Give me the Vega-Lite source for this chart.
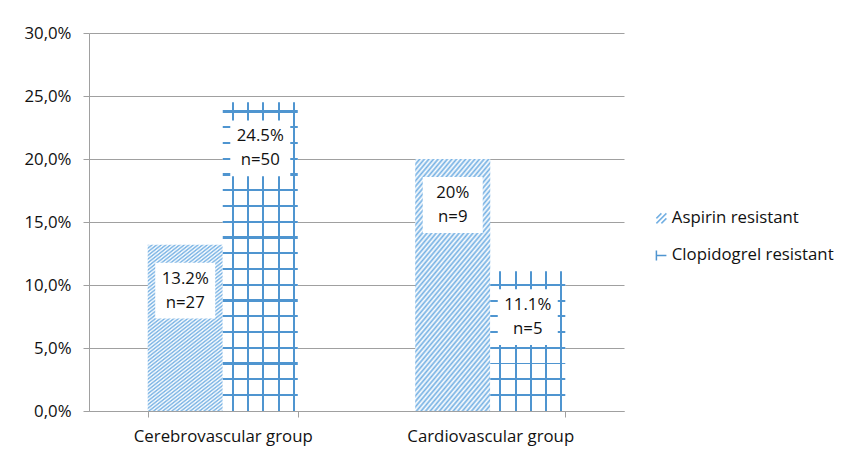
{
  "$schema": "https://vega.github.io/schema/vega-lite/v6.json",
  "width": 535,
  "height": 378,
  "autosize": "none",
  "padding": {"left": 89, "top": 33, "right": 222, "bottom": 41},
  "background": "white",
  "config": {"view": {"stroke": null}, "font": "Open Sans"},
  "data": {
    "values": [
      {"group": "Cerebrovascular group", "series": "Aspirin resistant", "value": 0.132, "label": ["13.2%", "n=27"]},
      {"group": "Cerebrovascular group", "series": "Clopidogrel resistant", "value": 0.245, "label": ["24.5%", "n=50"]},
      {"group": "Cardiovascular group", "series": "Aspirin resistant", "value": 0.2, "label": ["20%", "n=9"]},
      {"group": "Cardiovascular group", "series": "Clopidogrel resistant", "value": 0.111, "label": ["11.1%", "n=5"]}
    ]
  },
  "encoding": {
    "x": {
      "field": "group", "type": "nominal",
      "sort": ["Cerebrovascular group", "Cardiovascular group"],
      "scale": {"paddingInner": 0.439, "paddingOuter": 0.2195},
      "axis": {"title": null, "labelAngle": 0, "domainColor": "#a0a0a0", "tickColor": "#a0a0a0", "tickSize": 6, "tickBand": "extent", "labelFontSize": 16.8, "labelFont": "Open Sans", "labelColor": "#111111", "labelPadding": 11, "grid": false}
    },
    "xOffset": {
      "field": "series", "type": "nominal",
      "scale": {"domain": ["Aspirin resistant", "Clopidogrel resistant"], "paddingInner": 0, "paddingOuter": 0}
    },
    "y": {
      "field": "value", "type": "quantitative",
      "scale": {"domain": [0, 0.3], "nice": false},
      "axis": {"title": null, "values": [0, 0.05, 0.1, 0.15, 0.2, 0.25, 0.3], "labelExpr": "replace(format(datum.value, '.1%'), '.', ',')", "grid": true, "gridColor": "#a0a0a0", "domainColor": "#a0a0a0", "tickColor": "#a0a0a0", "tickSize": 6, "labelFontSize": 16.8, "labelFont": "Open Sans", "labelColor": "#111111", "labelPadding": 12}
    }
  },
  "layer": [
    {
      "transform": [{"filter": "datum.series === 'Aspirin resistant'"}],
      "mark": {
        "type": "bar",
        "fill": {
          "gradient": "linear", "x1": 0, "y1": 0, "x2": 0.693, "y2": 1.94,
          "stops": [
            {"offset": 0, "color": "#74b0e3"}, {"offset": 0.005, "color": "#fff"},
            {"offset": 0.01, "color": "#74b0e3"}, {"offset": 0.015, "color": "#fff"},
            {"offset": 0.02, "color": "#74b0e3"}, {"offset": 0.025, "color": "#fff"},
            {"offset": 0.03, "color": "#74b0e3"}, {"offset": 0.035, "color": "#fff"},
            {"offset": 0.04, "color": "#74b0e3"}, {"offset": 0.045, "color": "#fff"},
            {"offset": 0.05, "color": "#74b0e3"}, {"offset": 0.055, "color": "#fff"},
            {"offset": 0.06, "color": "#74b0e3"}, {"offset": 0.065, "color": "#fff"},
            {"offset": 0.07, "color": "#74b0e3"}, {"offset": 0.075, "color": "#fff"},
            {"offset": 0.08, "color": "#74b0e3"}, {"offset": 0.085, "color": "#fff"},
            {"offset": 0.09, "color": "#74b0e3"}, {"offset": 0.095, "color": "#fff"},
            {"offset": 0.1, "color": "#74b0e3"}, {"offset": 0.105, "color": "#fff"},
            {"offset": 0.11, "color": "#74b0e3"}, {"offset": 0.115, "color": "#fff"},
            {"offset": 0.12, "color": "#74b0e3"}, {"offset": 0.125, "color": "#fff"},
            {"offset": 0.13, "color": "#74b0e3"}, {"offset": 0.135, "color": "#fff"},
            {"offset": 0.14, "color": "#74b0e3"}, {"offset": 0.145, "color": "#fff"},
            {"offset": 0.15, "color": "#74b0e3"}, {"offset": 0.155, "color": "#fff"},
            {"offset": 0.16, "color": "#74b0e3"}, {"offset": 0.165, "color": "#fff"},
            {"offset": 0.17, "color": "#74b0e3"}, {"offset": 0.175, "color": "#fff"},
            {"offset": 0.18, "color": "#74b0e3"}, {"offset": 0.185, "color": "#fff"},
            {"offset": 0.19, "color": "#74b0e3"}, {"offset": 0.195, "color": "#fff"},
            {"offset": 0.2, "color": "#74b0e3"}, {"offset": 0.205, "color": "#fff"},
            {"offset": 0.21, "color": "#74b0e3"}, {"offset": 0.215, "color": "#fff"},
            {"offset": 0.22, "color": "#74b0e3"}, {"offset": 0.225, "color": "#fff"},
            {"offset": 0.23, "color": "#74b0e3"}, {"offset": 0.235, "color": "#fff"},
            {"offset": 0.24, "color": "#74b0e3"}, {"offset": 0.245, "color": "#fff"},
            {"offset": 0.25, "color": "#74b0e3"}, {"offset": 0.255, "color": "#fff"},
            {"offset": 0.26, "color": "#74b0e3"}, {"offset": 0.265, "color": "#fff"},
            {"offset": 0.27, "color": "#74b0e3"}, {"offset": 0.275, "color": "#fff"},
            {"offset": 0.28, "color": "#74b0e3"}, {"offset": 0.285, "color": "#fff"},
            {"offset": 0.29, "color": "#74b0e3"}, {"offset": 0.295, "color": "#fff"},
            {"offset": 0.3, "color": "#74b0e3"}, {"offset": 0.305, "color": "#fff"},
            {"offset": 0.31, "color": "#74b0e3"}, {"offset": 0.315, "color": "#fff"},
            {"offset": 0.32, "color": "#74b0e3"}, {"offset": 0.325, "color": "#fff"},
            {"offset": 0.33, "color": "#74b0e3"}, {"offset": 0.335, "color": "#fff"},
            {"offset": 0.34, "color": "#74b0e3"}, {"offset": 0.345, "color": "#fff"},
            {"offset": 0.35, "color": "#74b0e3"}, {"offset": 0.355, "color": "#fff"},
            {"offset": 0.36, "color": "#74b0e3"}, {"offset": 0.365, "color": "#fff"},
            {"offset": 0.37, "color": "#74b0e3"}, {"offset": 0.375, "color": "#fff"},
            {"offset": 0.38, "color": "#74b0e3"}, {"offset": 0.385, "color": "#fff"},
            {"offset": 0.39, "color": "#74b0e3"}, {"offset": 0.395, "color": "#fff"},
            {"offset": 0.4, "color": "#74b0e3"}, {"offset": 0.405, "color": "#fff"},
            {"offset": 0.41, "color": "#74b0e3"}, {"offset": 0.415, "color": "#fff"},
            {"offset": 0.42, "color": "#74b0e3"}, {"offset": 0.425, "color": "#fff"},
            {"offset": 0.43, "color": "#74b0e3"}, {"offset": 0.435, "color": "#fff"},
            {"offset": 0.44, "color": "#74b0e3"}, {"offset": 0.445, "color": "#fff"},
            {"offset": 0.45, "color": "#74b0e3"}, {"offset": 0.455, "color": "#fff"},
            {"offset": 0.46, "color": "#74b0e3"}, {"offset": 0.465, "color": "#fff"},
            {"offset": 0.47, "color": "#74b0e3"}, {"offset": 0.475, "color": "#fff"},
            {"offset": 0.48, "color": "#74b0e3"}, {"offset": 0.485, "color": "#fff"},
            {"offset": 0.49, "color": "#74b0e3"}, {"offset": 0.495, "color": "#fff"},
            {"offset": 0.5, "color": "#74b0e3"}, {"offset": 0.505, "color": "#fff"},
            {"offset": 0.51, "color": "#74b0e3"}, {"offset": 0.515, "color": "#fff"},
            {"offset": 0.52, "color": "#74b0e3"}, {"offset": 0.525, "color": "#fff"},
            {"offset": 0.53, "color": "#74b0e3"}, {"offset": 0.535, "color": "#fff"},
            {"offset": 0.54, "color": "#74b0e3"}, {"offset": 0.545, "color": "#fff"},
            {"offset": 0.55, "color": "#74b0e3"}, {"offset": 0.555, "color": "#fff"},
            {"offset": 0.56, "color": "#74b0e3"}, {"offset": 0.565, "color": "#fff"},
            {"offset": 0.57, "color": "#74b0e3"}, {"offset": 0.575, "color": "#fff"},
            {"offset": 0.58, "color": "#74b0e3"}, {"offset": 0.585, "color": "#fff"},
            {"offset": 0.59, "color": "#74b0e3"}, {"offset": 0.595, "color": "#fff"},
            {"offset": 0.6, "color": "#74b0e3"}, {"offset": 0.605, "color": "#fff"},
            {"offset": 0.61, "color": "#74b0e3"}, {"offset": 0.615, "color": "#fff"},
            {"offset": 0.62, "color": "#74b0e3"}, {"offset": 0.625, "color": "#fff"}
          ]
        }
      }
    },
    {
      "transform": [{"filter": "datum.series === 'Clopidogrel resistant'"}],
      "mark": {
        "type": "bar",
        "fill": {
          "gradient": "linear", "x1": 0, "y1": 0, "x2": 1, "y2": 0,
          "stops": [
            {"offset": 0, "color": "#ffffff"}, {"offset": 0.12, "color": "#ffffff"},
            {"offset": 0.12, "color": "#4f95d0"}, {"offset": 0.146, "color": "#4f95d0"},
            {"offset": 0.146, "color": "#ffffff"}, {"offset": 0.324, "color": "#ffffff"},
            {"offset": 0.324, "color": "#4f95d0"}, {"offset": 0.35, "color": "#4f95d0"},
            {"offset": 0.35, "color": "#ffffff"}, {"offset": 0.528, "color": "#ffffff"},
            {"offset": 0.528, "color": "#4f95d0"}, {"offset": 0.554, "color": "#4f95d0"},
            {"offset": 0.554, "color": "#ffffff"}, {"offset": 0.732, "color": "#ffffff"},
            {"offset": 0.732, "color": "#4f95d0"}, {"offset": 0.758, "color": "#4f95d0"},
            {"offset": 0.758, "color": "#ffffff"}, {"offset": 0.936, "color": "#ffffff"},
            {"offset": 0.936, "color": "#4f95d0"}, {"offset": 0.962, "color": "#4f95d0"},
            {"offset": 0.962, "color": "#ffffff"}, {"offset": 1, "color": "#ffffff"}
          ]
        }
      }
    },
    {
      "transform": [{"filter": "datum.series === 'Clopidogrel resistant' && datum.group === 'Cerebrovascular group'"}],
      "mark": {
        "type": "bar",
        "fill": {
          "gradient": "linear", "x1": 0, "y1": 0, "x2": 0, "y2": 1,
          "stops": [
            {"offset": 0, "color": "rgba(255,255,255,0)"},
            {"offset": 0.0265, "color": "rgba(255,255,255,0)"}, {"offset": 0.0265, "color": "#4f95d0"}, {"offset": 0.0331, "color": "#4f95d0"}, {"offset": 0.0331, "color": "rgba(255,255,255,0)"},
            {"offset": 0.0775, "color": "rgba(255,255,255,0)"}, {"offset": 0.0775, "color": "#4f95d0"}, {"offset": 0.0841, "color": "#4f95d0"}, {"offset": 0.0841, "color": "rgba(255,255,255,0)"},
            {"offset": 0.1285, "color": "rgba(255,255,255,0)"}, {"offset": 0.1285, "color": "#4f95d0"}, {"offset": 0.1351, "color": "#4f95d0"}, {"offset": 0.1351, "color": "rgba(255,255,255,0)"},
            {"offset": 0.1796, "color": "rgba(255,255,255,0)"}, {"offset": 0.1796, "color": "#4f95d0"}, {"offset": 0.1862, "color": "#4f95d0"}, {"offset": 0.1862, "color": "rgba(255,255,255,0)"},
            {"offset": 0.2306, "color": "rgba(255,255,255,0)"}, {"offset": 0.2306, "color": "#4f95d0"}, {"offset": 0.2372, "color": "#4f95d0"}, {"offset": 0.2372, "color": "rgba(255,255,255,0)"},
            {"offset": 0.2816, "color": "rgba(255,255,255,0)"}, {"offset": 0.2816, "color": "#4f95d0"}, {"offset": 0.2882, "color": "#4f95d0"}, {"offset": 0.2882, "color": "rgba(255,255,255,0)"},
            {"offset": 0.3326, "color": "rgba(255,255,255,0)"}, {"offset": 0.3326, "color": "#4f95d0"}, {"offset": 0.3392, "color": "#4f95d0"}, {"offset": 0.3392, "color": "rgba(255,255,255,0)"},
            {"offset": 0.3836, "color": "rgba(255,255,255,0)"}, {"offset": 0.3836, "color": "#4f95d0"}, {"offset": 0.3902, "color": "#4f95d0"}, {"offset": 0.3902, "color": "rgba(255,255,255,0)"},
            {"offset": 0.4347, "color": "rgba(255,255,255,0)"}, {"offset": 0.4347, "color": "#4f95d0"}, {"offset": 0.4413, "color": "#4f95d0"}, {"offset": 0.4413, "color": "rgba(255,255,255,0)"},
            {"offset": 0.4857, "color": "rgba(255,255,255,0)"}, {"offset": 0.4857, "color": "#4f95d0"}, {"offset": 0.4923, "color": "#4f95d0"}, {"offset": 0.4923, "color": "rgba(255,255,255,0)"},
            {"offset": 0.5367, "color": "rgba(255,255,255,0)"}, {"offset": 0.5367, "color": "#4f95d0"}, {"offset": 0.5433, "color": "#4f95d0"}, {"offset": 0.5433, "color": "rgba(255,255,255,0)"},
            {"offset": 0.5877, "color": "rgba(255,255,255,0)"}, {"offset": 0.5877, "color": "#4f95d0"}, {"offset": 0.5943, "color": "#4f95d0"}, {"offset": 0.5943, "color": "rgba(255,255,255,0)"},
            {"offset": 0.6387, "color": "rgba(255,255,255,0)"}, {"offset": 0.6387, "color": "#4f95d0"}, {"offset": 0.6453, "color": "#4f95d0"}, {"offset": 0.6453, "color": "rgba(255,255,255,0)"},
            {"offset": 0.6898, "color": "rgba(255,255,255,0)"}, {"offset": 0.6898, "color": "#4f95d0"}, {"offset": 0.6964, "color": "#4f95d0"}, {"offset": 0.6964, "color": "rgba(255,255,255,0)"},
            {"offset": 0.7408, "color": "rgba(255,255,255,0)"}, {"offset": 0.7408, "color": "#4f95d0"}, {"offset": 0.7474, "color": "#4f95d0"}, {"offset": 0.7474, "color": "rgba(255,255,255,0)"},
            {"offset": 0.7918, "color": "rgba(255,255,255,0)"}, {"offset": 0.7918, "color": "#4f95d0"}, {"offset": 0.7984, "color": "#4f95d0"}, {"offset": 0.7984, "color": "rgba(255,255,255,0)"},
            {"offset": 0.8428, "color": "rgba(255,255,255,0)"}, {"offset": 0.8428, "color": "#4f95d0"}, {"offset": 0.8494, "color": "#4f95d0"}, {"offset": 0.8494, "color": "rgba(255,255,255,0)"},
            {"offset": 0.8938, "color": "rgba(255,255,255,0)"}, {"offset": 0.8938, "color": "#4f95d0"}, {"offset": 0.9004, "color": "#4f95d0"}, {"offset": 0.9004, "color": "rgba(255,255,255,0)"},
            {"offset": 0.9449, "color": "rgba(255,255,255,0)"}, {"offset": 0.9449, "color": "#4f95d0"}, {"offset": 0.9515, "color": "#4f95d0"}, {"offset": 0.9515, "color": "rgba(255,255,255,0)"},
            {"offset": 1, "color": "rgba(255,255,255,0)"}
          ]
        }
      }
    },
    {
      "transform": [{"filter": "datum.series === 'Clopidogrel resistant' && datum.group === 'Cardiovascular group'"}],
      "mark": {
        "type": "bar",
        "fill": {
          "gradient": "linear", "x1": 0, "y1": 0, "x2": 0, "y2": 1,
          "stops": [
            {"offset": 0, "color": "rgba(255,255,255,0)"},
            {"offset": 0.0903, "color": "rgba(255,255,255,0)"}, {"offset": 0.0903, "color": "#4f95d0"}, {"offset": 0.1045, "color": "#4f95d0"}, {"offset": 0.1045, "color": "rgba(255,255,255,0)"},
            {"offset": 0.2029, "color": "rgba(255,255,255,0)"}, {"offset": 0.2029, "color": "#4f95d0"}, {"offset": 0.2171, "color": "#4f95d0"}, {"offset": 0.2171, "color": "rgba(255,255,255,0)"},
            {"offset": 0.3155, "color": "rgba(255,255,255,0)"}, {"offset": 0.3155, "color": "#4f95d0"}, {"offset": 0.3297, "color": "#4f95d0"}, {"offset": 0.3297, "color": "rgba(255,255,255,0)"},
            {"offset": 0.4281, "color": "rgba(255,255,255,0)"}, {"offset": 0.4281, "color": "#4f95d0"}, {"offset": 0.4423, "color": "#4f95d0"}, {"offset": 0.4423, "color": "rgba(255,255,255,0)"},
            {"offset": 0.5407, "color": "rgba(255,255,255,0)"}, {"offset": 0.5407, "color": "#4f95d0"}, {"offset": 0.5549, "color": "#4f95d0"}, {"offset": 0.5549, "color": "rgba(255,255,255,0)"},
            {"offset": 0.6533, "color": "rgba(255,255,255,0)"}, {"offset": 0.6533, "color": "#4f95d0"}, {"offset": 0.6675, "color": "#4f95d0"}, {"offset": 0.6675, "color": "rgba(255,255,255,0)"},
            {"offset": 0.7659, "color": "rgba(255,255,255,0)"}, {"offset": 0.7659, "color": "#4f95d0"}, {"offset": 0.7801, "color": "#4f95d0"}, {"offset": 0.7801, "color": "rgba(255,255,255,0)"},
            {"offset": 0.8785, "color": "rgba(255,255,255,0)"}, {"offset": 0.8785, "color": "#4f95d0"}, {"offset": 0.8927, "color": "#4f95d0"}, {"offset": 0.8927, "color": "rgba(255,255,255,0)"},
            {"offset": 1, "color": "rgba(255,255,255,0)"}
          ]
        }
      }
    },
    {
      "mark": {"type": "point", "shape": "M-1,-0.93L1,-0.93L1,0.93L-1,0.93Z", "size": 3600, "filled": true, "color": "#ffffff", "opacity": 1, "strokeWidth": 0, "yOffset": 46}
    },
    {
      "mark": {"type": "text", "fontSize": 16.8, "font": "Open Sans", "color": "#111111", "lineHeight": 24, "yOffset": 34, "baseline": "middle", "align": "center"},
      "encoding": {"text": {"field": "label", "type": "nominal"}}
    },
    {
      "mark": {"type": "point", "filled": false, "opacity": 0},
      "encoding": {
        "shape": {
          "field": "series", "type": "nominal",
          "scale": {"domain": ["Aspirin resistant", "Clopidogrel resistant"], "range": ["M-1,0L0,-1M-1,1L1,-1M0,1L1,0", "M-1,-1L-1,1M-1,0L1,0"]},
          "legend": {"title": null, "orient": "none", "legendX": 564, "legendY": 177, "padding": 0, "symbolSize": 100, "symbolStrokeWidth": 1.5, "symbolOpacity": 1, "labelFontSize": 16.8, "labelFont": "Open Sans", "labelColor": "#111111", "labelOffset": 2, "labelLimit": 300, "rowPadding": 19}
        },
        "color": {
          "field": "series", "type": "nominal",
          "scale": {"domain": ["Aspirin resistant", "Clopidogrel resistant"], "range": ["#74b0e3", "#4f95d0"]},
          "legend": {"title": null, "orient": "none", "legendX": 564, "legendY": 177, "padding": 0, "symbolSize": 100, "symbolStrokeWidth": 1.5, "symbolOpacity": 1, "labelFontSize": 16.8, "labelFont": "Open Sans", "labelColor": "#111111", "labelOffset": 2, "labelLimit": 300, "rowPadding": 19}
        }
      }
    }
  ]
}
